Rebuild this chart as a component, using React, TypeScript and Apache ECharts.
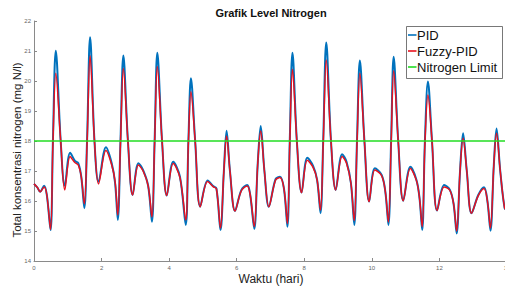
import React, { useEffect, useRef } from "react";
import * as echarts from "echarts";

const timeDays = [
  0.0, 0.1, 0.18, 0.3, 0.38, 0.49, 0.56, 0.645, 0.79, 0.91,
  1.07, 1.21, 1.31, 1.4, 1.49, 1.57, 1.66, 1.79, 1.91,
  2.13, 2.3, 2.4, 2.48, 2.56, 2.645, 2.78, 2.92,
  3.09, 3.23, 3.38, 3.49, 3.57, 3.65, 3.79, 3.93,
  4.12, 4.32, 4.49, 4.57, 4.645, 4.77, 4.92,
  5.14, 5.3, 5.4, 5.52, 5.62, 5.7, 5.8, 5.95,
  6.14, 6.31, 6.4, 6.52, 6.62, 6.71, 6.82, 6.95,
  7.15, 7.28, 7.4, 7.5, 7.57, 7.65, 7.78, 7.92,
  8.09, 8.26, 8.38, 8.48, 8.56, 8.65, 8.79, 8.93,
  9.12, 9.25, 9.38, 9.48, 9.56, 9.645, 9.78, 9.92,
  10.09, 10.29, 10.4, 10.49, 10.57, 10.645, 10.78, 10.93,
  11.14, 11.32, 11.41, 11.49, 11.57, 11.66, 11.78, 11.93,
  12.14, 12.31, 12.42, 12.51, 12.61, 12.7, 12.81, 12.95,
  13.15, 13.32, 13.42, 13.51, 13.61, 13.69, 13.8, 13.93, 14.0,
];

const pidNitrogen = [
  16.57, 16.45, 16.31, 16.51, 16.2, 15.03, 18.0, 21.01, 18.0, 16.51,
  17.61, 17.34, 17.26, 16.8, 15.76, 18.0, 21.46, 18.0, 16.64,
  17.79, 17.26, 16.6, 15.37, 18.0, 20.85, 18.0, 16.2,
  17.26, 17.03, 16.5, 15.31, 18.0, 20.94, 18.0, 16.18,
  17.31, 16.81, 15.2, 18.0, 20.09, 18.0, 15.81,
  16.68, 16.5, 16.42, 15.03, 17.0, 18.34, 17.0, 15.67,
  16.37, 16.53, 16.2, 15.07, 17.2, 18.5, 17.0, 15.81,
  16.73, 16.81, 16.4, 15.14, 18.0, 20.94, 18.0, 16.28,
  17.44, 17.17, 16.7, 15.59, 18.0, 21.28, 18.0, 16.37,
  17.56, 17.31, 16.6, 15.2, 18.0, 20.68, 18.0, 15.98,
  17.09, 16.87, 16.3, 15.2, 18.0, 20.81, 18.0, 16.01,
  17.14, 16.7, 16.1, 15.03, 18.0, 19.98, 18.0, 15.68,
  16.53, 16.37, 15.9, 14.92, 17.0, 18.26, 17.0, 15.59,
  16.2, 16.46, 16.0, 15.01, 17.2, 18.42, 17.0, 15.76, 15.7,
];

const fuzzyNitrogen = [
  16.57, 16.45, 16.31, 16.47, 16.2, 15.05, 17.9, 20.26, 18.0, 16.37,
  17.48, 17.28, 17.2, 16.8, 15.9, 17.9, 20.84, 18.0, 16.57,
  17.68, 17.2, 16.65, 15.53, 17.95, 20.42, 18.0, 16.2,
  17.2, 17.0, 16.5, 15.47, 17.95, 20.48, 18.0, 16.18,
  17.25, 16.78, 15.37, 17.95, 19.64, 18.0, 15.81,
  16.65, 16.48, 16.4, 15.1, 17.0, 18.17, 17.0, 15.67,
  16.35, 16.5, 16.2, 15.15, 17.2, 18.33, 17.0, 15.81,
  16.7, 16.78, 16.4, 15.25, 17.9, 20.39, 18.0, 16.28,
  17.36, 17.12, 16.7, 15.7, 17.9, 20.7, 18.0, 16.37,
  17.48, 17.26, 16.6, 15.35, 17.9, 20.26, 18.0, 15.98,
  17.03, 16.84, 16.3, 15.3, 17.9, 20.34, 18.0, 16.01,
  17.08, 16.68, 16.1, 15.14, 17.9, 19.53, 18.0, 15.68,
  16.47, 16.35, 15.9, 15.0, 17.0, 18.09, 17.0, 15.59,
  16.18, 16.42, 16.0, 15.1, 17.2, 18.26, 17.0, 15.76, 15.7,
];

const limitTimes = [0, 14];
const limitValues = [18, 18];

const seriesNames = ["PID", "Fuzzy-PID", "Nitrogen Limit"];
const seriesColors = ["#0072BD", "#E8101E", "#22DD22"];

const FONT = "'Liberation Sans', Arial, Helvetica, sans-serif";

export default function App() {
  const ref = useRef<HTMLDivElement>(null);
  useEffect(() => {
    if (!ref.current) return;
    const chart = echarts.init(ref.current, undefined, { renderer: "svg" });

    const legendChildren: any[] = [
      {
        type: "rect",
        shape: { x: 406.5, y: 26.5, width: 96, height: 52 },
        style: { fill: "#ffffff", stroke: "#555", lineWidth: 0.8 },
      },
    ];
    seriesNames.forEach((name, i) => {
      const cy = 35 + i * 16;
      legendChildren.push({
        type: "line",
        shape: { x1: 408, y1: cy, x2: 416.5, y2: cy },
        style: { stroke: seriesColors[i], lineWidth: 1.6 },
      });
      legendChildren.push({
        type: "text",
        x: 417,
        y: cy,
        style: {
          text: name,
          font: `13px ${FONT}`,
          fill: "#111",
          textAlign: "left",
          textVerticalAlign: "middle",
        },
      });
    });

    chart.setOption({
      animation: false,
      backgroundColor: "#ffffff",
      textStyle: { fontFamily: FONT },
      grid: { left: 34, top: 21, width: 473, height: 240, outerBoundsMode: "none", containLabel: false },
      xAxis: {
        type: "value",
        min: 0,
        max: 14,
        interval: 2,
        axisLine: { show: true, lineStyle: { color: "#8a8a8a", width: 1 } },
        axisTick: { show: true, inside: true, length: 3, lineStyle: { color: "#8a8a8a" } },
        axisLabel: { fontSize: 6, color: "#666", margin: 4, fontFamily: FONT },
        splitLine: { show: false },
      },
      yAxis: {
        type: "value",
        min: 14,
        max: 22,
        interval: 1,
        axisLine: { show: true, lineStyle: { color: "#8a8a8a", width: 1 } },
        axisTick: { show: true, inside: true, length: 3, lineStyle: { color: "#8a8a8a" } },
        axisLabel: { fontSize: 6, color: "#666", margin: 3, fontFamily: FONT },
        splitLine: { show: false },
      },
      graphic: [
        {
          type: "text",
          x: 271,
          y: 13,
          style: {
            text: "Grafik Level Nitrogen",
            font: `bold 11px ${FONT}`,
            fill: "#111",
            textAlign: "center",
            textVerticalAlign: "middle",
          },
        },
        {
          type: "text",
          x: 271,
          y: 279,
          style: {
            text: "Waktu (hari)",
            font: `12px ${FONT}`,
            fill: "#222",
            textAlign: "center",
            textVerticalAlign: "middle",
          },
        },
        {
          type: "text",
          x: 17,
          y: 150,
          rotation: Math.PI / 2,
          style: {
            text: "Total konsentrasi nitrogen (mg N/l)",
            font: `11.5px ${FONT}`,
            fill: "#222",
            textAlign: "center",
            textVerticalAlign: "middle",
          },
        },
        {
          type: "group",
          z: 100,
          children: legendChildren,
        },
      ],
      series: [
        {
          name: seriesNames[0],
          type: "line",
          data: timeDays.map((t, i) => [t, pidNitrogen[i]]),
          smooth: 0.35,
          showSymbol: false,
          lineStyle: { color: seriesColors[0], width: 2 },
          itemStyle: { color: seriesColors[0] },
          z: 2,
        },
        {
          name: seriesNames[1],
          type: "line",
          data: timeDays.map((t, i) => [t, fuzzyNitrogen[i]]),
          smooth: 0.35,
          showSymbol: false,
          lineStyle: { color: seriesColors[1], width: 1.5 },
          itemStyle: { color: seriesColors[1] },
          z: 3,
        },
        {
          name: seriesNames[2],
          type: "line",
          data: limitTimes.map((t, i) => [t, limitValues[i]]),
          showSymbol: false,
          lineStyle: { color: seriesColors[2], width: 1.5 },
          itemStyle: { color: seriesColors[2] },
          z: 4,
        },
      ],
    });
    return () => chart.dispose();
  }, []);
  return (
    <div
      ref={ref}
      style={{ position: "absolute", left: 0, top: 0, width: 505, height: 288 }}
    />
  );
}
